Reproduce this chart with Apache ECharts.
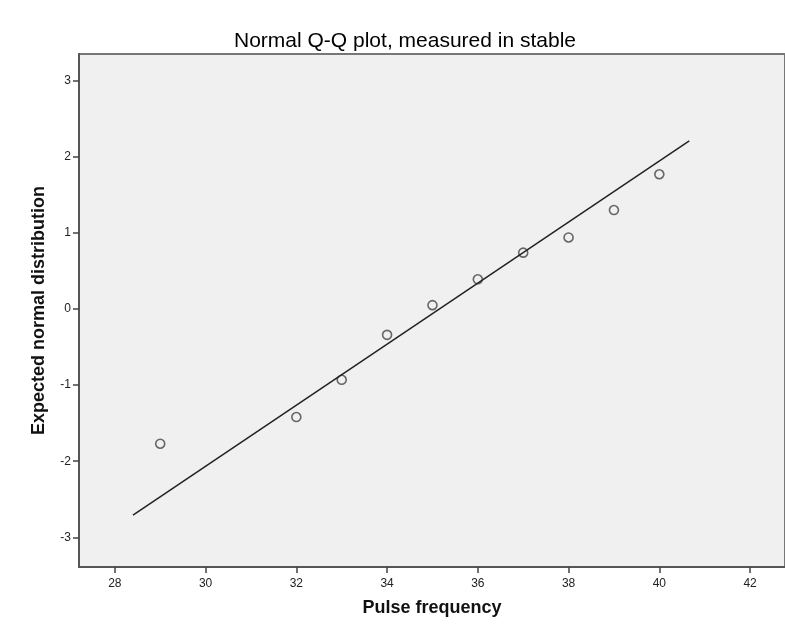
<!DOCTYPE html>
<html>
<head>
<meta charset="utf-8">
<script src="https://cdn.jsdelivr.net/npm/echarts@6/dist/echarts.min.js"></script>
<style>
  html, body { margin: 0; padding: 0; background: #fff; }
  #chart { width: 785px; height: 628px; }
</style>
</head>
<body>
<div id="chart"></div>
<script>
// 数据：脉搏频率 和 期望正态值
var pulse = [29, 32, 33, 34, 35, 36, 37, 38, 39, 40]
var expected = [-1.77, -1.42, -0.93, -0.34, 0.05, 0.39, 0.74, 0.94, 1.30, 1.77]
// 参考线两端
var lineX = [28.4, 40.66]
var lineY = [-2.71, 2.21]
var xTicks = [28, 30, 32, 34, 36, 38, 40, 42]
var yTicks = [-3, -2, -1, 0, 1, 2, 3]

var myChart = echarts.init(document.getElementById('chart'))
var font = 'Arial, "Liberation Sans", sans-serif'

myChart.setOption({
  animation: false,
  title: {
    text: 'Normal Q-Q plot, measured in stable',
    left: 400,
    top: 26,
    textAlign: 'center',
    textStyle: { fontFamily: font, fontSize: 21, fontWeight: 'normal', color: '#000' }
  },
  grid: {
    left: 79, top: 54, right: -2, bottom: 61,
    show: true,
    backgroundColor: '#f0f0f0',
    borderColor: '#777',
    borderWidth: 2
  },
  xAxis: {
    type: 'value',
    min: 27.21, max: 42.77,
    name: 'Pulse frequency',
    nameLocation: 'middle',
    nameGap: 32,
    nameTextStyle: { fontFamily: font, fontSize: 18, fontWeight: 'bold', color: '#111' },
    splitLine: { show: false },
    axisLine: { show: true, onZero: false, lineStyle: { color: '#555', width: 2 } },
    axisTick: { show: true, length: 6, customValues: xTicks, lineStyle: { color: '#444', width: 1.5 } },
    axisLabel: { customValues: xTicks, fontFamily: font, fontSize: 12, color: '#222', margin: 11 }
  },
  yAxis: {
    type: 'value',
    min: -3.39, max: 3.35,
    name: 'Expected normal distribution',
    nameLocation: 'middle',
    nameGap: 31,
    nameTextStyle: { fontFamily: font, fontSize: 18, fontWeight: 'bold', color: '#111' },
    splitLine: { show: false },
    axisLine: { show: true, onZero: false, lineStyle: { color: '#555', width: 2 } },
    axisTick: { show: true, length: 6, customValues: yTicks, lineStyle: { color: '#444', width: 1.5 } },
    axisLabel: { customValues: yTicks, fontFamily: font, fontSize: 12, color: '#222', margin: 8 }
  },
  series: [
    {
      type: 'line',
      data: lineX.map((x, i) => [x, lineY[i]]),
      symbol: 'none',
      lineStyle: { color: '#222', width: 1.5 },
      silent: true
    },
    {
      type: 'scatter',
      data: pulse.map((p, i) => [p, expected[i]]),
      symbol: 'circle',
      symbolSize: 9,
      itemStyle: { color: 'rgba(0,0,0,0)', borderColor: '#444', borderWidth: 1.6 }
    }
  ]
})
</script>
</body>
</html>
